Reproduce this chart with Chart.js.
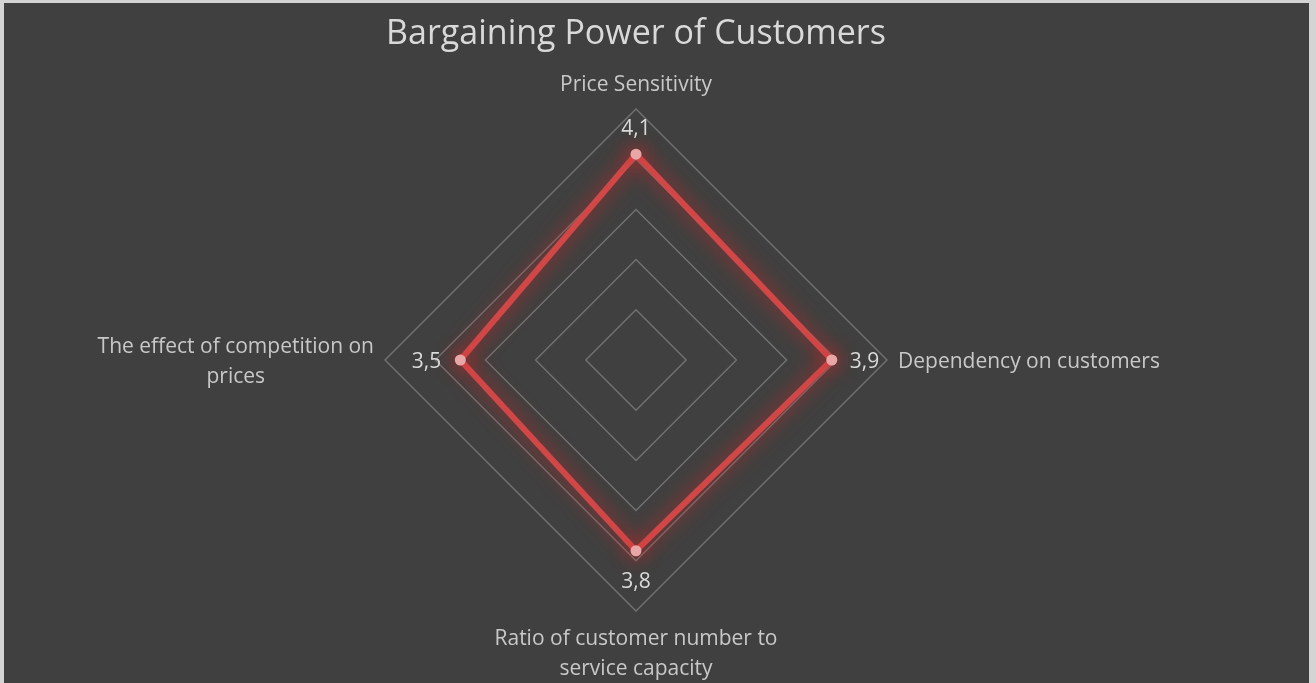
<!DOCTYPE html>
<html lang="en">
<head>
    <meta charset="UTF-8">
    <title>Bargaining Power of Customers</title>
    <script src="https://cdn.jsdelivr.net/npm/chart.js"></script>
    <style>
        html, body {
            margin: 0;
            padding: 0;
            background: #d9d9d9;
        }
        .chart-box {
            width: 1316px;
            height: 683px;
        }
    </style>
</head>
<body>
    <div class="chart-box">
        <canvas id="radarChart" width="1316" height="683"></canvas>
    </div>

    <script>
        // Chart data
        const categories = [
            ['Price Sensitivity'],
            ['Dependency on customers'],
            ['Ratio of customer number to', 'service capacity'],
            ['The effect of competition on', 'prices']
        ];
        const scores = [4.1, 3.9, 3.8, 3.5];
        const scaleTicks = [0, 1, 2, 3, 4, 5];

        const textColor = '#d9d9d9';
        const labelFont = '21px "Open Sans", sans-serif';
        const textShift = 2; // Open Sans sits a bit high with 'middle'

        // dark panel with light frame
        const panelPlugin = {
            id: 'panel',
            beforeDraw(chart) {
                const ctx = chart.ctx;
                ctx.save();
                ctx.fillStyle = '#d4d4d4';
                ctx.fillRect(0, 0, chart.width, chart.height);
                ctx.fillStyle = '#404040';
                ctx.fillRect(4, 3, 1305, chart.height - 3);
                ctx.restore();
            }
        };

        // red glow round the line
        const glowPlugin = {
            id: 'glow',
            beforeDatasetDraw(chart) {
                chart.ctx.save();
                chart.ctx.shadowColor = 'rgba(225, 35, 35, 0.9)';
                chart.ctx.shadowBlur = 20;
            },
            afterDatasetDraw(chart) {
                chart.ctx.restore();
            }
        };

        // axis names, drawn at the outer ring like Excel does
        const axisNamePlugin = {
            id: 'axisNames',
            afterDraw(chart) {
                const scale = chart.scales.r;
                const ctx = chart.ctx;
                const lineH = 30;
                ctx.save();
                ctx.font = labelFont;
                ctx.fillStyle = '#c8c8c8';
                ctx.textBaseline = 'middle';
                ctx.textAlign = 'center';
                categories.forEach((lines, i) => {
                    const p = scale.getPointPosition(i, scale.drawingArea + 11);
                    const w = Math.max(...lines.map(l => ctx.measureText(l).width));
                    let cx, cy;
                    if (i === 0) { cx = p.x; cy = p.y - lines.length * lineH; }
                    else if (i === 2) { cx = p.x; cy = p.y; }
                    else if (i === 1) { cx = p.x + w / 2; cy = p.y - lines.length * lineH / 2; }
                    else { cx = p.x - w / 2; cy = p.y - lines.length * lineH / 2; }
                    lines.forEach((l, k) => {
                        ctx.fillText(l, cx, cy + lineH / 2 + k * lineH + textShift);
                    });
                });
                ctx.restore();
            }
        };

        // value labels next to each point
        const valueLabelPlugin = {
            id: 'valueLabels',
            afterDatasetsDraw(chart) {
                const ctx = chart.ctx;
                const meta = chart.getDatasetMeta(0);
                ctx.save();
                ctx.font = labelFont;
                ctx.fillStyle = textColor;
                ctx.textBaseline = 'middle';
                meta.data.forEach((pt, i) => {
                    const txt = String(scores[i]).replace('.', ',');
                    let x = pt.x, y = pt.y + textShift;
                    if (i === 0) { ctx.textAlign = 'center'; y -= 27; }
                    else if (i === 1) { ctx.textAlign = 'left'; x += 18; }
                    else if (i === 2) { ctx.textAlign = 'center'; y += 29; }
                    else { ctx.textAlign = 'right'; x -= 19; }
                    ctx.fillText(txt, x, y);
                });
                ctx.restore();
            }
        };

        new Chart(document.getElementById('radarChart'), {
            type: 'radar',
            data: {
                labels: categories,
                datasets: [{
                    data: scores,
                    borderColor: 'rgba(214, 72, 72, 0.95)',
                    borderWidth: 6,
                    backgroundColor: 'transparent',
                    fill: false,
                    pointRadius: 5.5,
                    pointBackgroundColor: '#e9a6a6',
                    pointBorderColor: '#e9a6a6',
                    pointBorderWidth: 0,
                    tension: 0
                }]
            },
            options: {
                responsive: false,
                animation: false,
                layout: {
                    padding: { left: 0, right: 44, top: 0, bottom: 72 }
                },
                plugins: {
                    legend: { display: false },
                    tooltip: { enabled: false },
                    title: {
                        display: true,
                        text: 'Bargaining Power of Customers',
                        color: textColor,
                        font: { family: '"Open Sans", sans-serif', size: 34, weight: 'normal', lineHeight: 1.2 },
                        padding: { top: 14, bottom: 54.2 }
                    }
                },
                scales: {
                    r: {
                        min: scaleTicks[0],
                        max: scaleTicks[scaleTicks.length - 1],
                        ticks: { display: false, stepSize: 1 },
                        angleLines: { display: false },
                        grid: { color: '#727272', lineWidth: 1.4 },
                        pointLabels: { display: false }
                    }
                }
            },
            plugins: [panelPlugin, glowPlugin, axisNamePlugin, valueLabelPlugin]
        });
    </script>
</body>
</html>
